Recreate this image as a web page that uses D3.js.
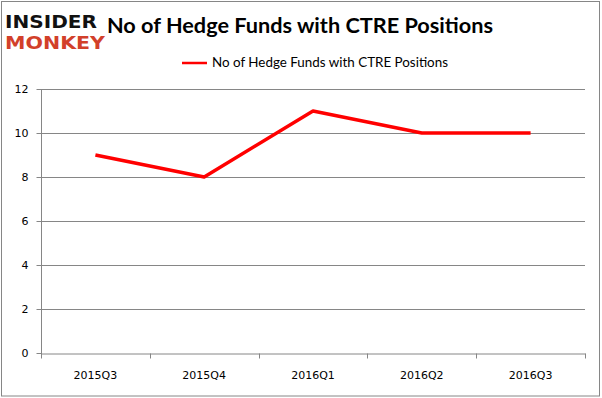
<!DOCTYPE html>
<html>
<head>
<meta charset="utf-8">
<script src="https://cdn.jsdelivr.net/npm/d3@7"></script>
<style>
  body { margin: 0; background: #fff; }
  svg { display: block; }
</style>
</head>
<body>
<div id="chart"></div>
<script>
const quarters = ['2015Q3', '2015Q4', '2016Q1', '2016Q2', '2016Q3'];
const funds = [9, 8, 11, 10, 10];
const yTicks = [0, 2, 4, 6, 8, 10, 12];
const title = 'No of Hedge Funds with CTRE Positions';
const seriesName = 'No of Hedge Funds with CTRE Positions';

const w = 602;
const h = 398;
const margin = {top: 89, right: 17, bottom: 45, left: 41};

const svg = d3.select('#chart')
  .append('svg')
  .attr('width', w)
  .attr('height', h);

// outer frame
svg.append('rect')
  .attr('x', 1.5)
  .attr('y', 1.5)
  .attr('width', w - 4)
  .attr('height', h - 3.5)
  .attr('fill', '#fff')
  .attr('stroke', '#868686');

// logo
svg.append('text')
  .attr('x', 5)
  .attr('y', 28)
  .attr('textLength', 92)
  .attr('lengthAdjust', 'spacingAndGlyphs')
  .style('font-family', 'DejaVu Sans')
  .style('font-weight', 'bold')
  .style('font-size', '18px')
  .attr('fill', '#111')
  .text('INSIDER');
svg.append('text')
  .attr('x', 5)
  .attr('y', 49)
  .attr('textLength', 100)
  .attr('lengthAdjust', 'spacingAndGlyphs')
  .style('font-family', 'DejaVu Sans')
  .style('font-weight', 'bold')
  .style('font-size', '18px')
  .attr('fill', '#d2402a')
  .text('MONKEY');

// title
svg.append('text')
  .attr('x', 300)
  .attr('y', 33)
  .attr('text-anchor', 'middle')
  .style('font-family', 'Lato')
  .style('font-weight', 'bold')
  .style('font-size', '21.7px')
  .attr('fill', '#000')
  .text(title);

const xScale = d3.scaleBand()
  .domain(quarters)
  .range([margin.left, w - margin.right]);
const yScale = d3.scaleLinear()
  .domain([0, 12])
  .range([h - margin.bottom, margin.top]);

// legend
const legend = svg.append('g').attr('transform', 'translate(182, 63)');
legend.append('line')
  .attr('x1', 0).attr('x2', 25)
  .attr('y1', 0).attr('y2', 0)
  .attr('stroke', '#ff0000')
  .attr('stroke-width', 2.5);
legend.append('text')
  .attr('x', 30)
  .attr('y', 4)
  .style('font-family', 'Lato')
  .style('font-size', '13.4px')
  .attr('fill', '#000')
  .text(seriesName);

// gridlines
svg.append('g')
  .selectAll('line')
  .data(yTicks.filter(d => d > 0))
  .enter()
  .append('line')
  .attr('x1', margin.left)
  .attr('x2', w - margin.right)
  .attr('y1', d => Math.round(yScale(d)) + 0.5)
  .attr('y2', d => Math.round(yScale(d)) + 0.5)
  .attr('stroke', '#868686');

const axisFont = g => g.selectAll('text')
  .style('font-family', 'DejaVu Sans')
  .style('font-size', '11px')
  .attr('fill', '#000');

const xAxis = d3.axisBottom(xScale)
  .tickSize(0)
  .tickPadding(18);
const gx = svg.append('g')
  .attr('transform', 'translate(0,' + (Math.round(yScale(0)) + 0.5) + ')')
  .call(xAxis);
gx.select('.domain').attr('stroke', '#868686');
gx.selectAll('.tick').select('line').remove();
gx.call(axisFont);
// category separators
gx.selectAll('.sep')
  .data(quarters.concat(['end']))
  .enter()
  .append('line')
  .attr('class', 'sep')
  .attr('x1', (d, i) => Math.round(margin.left + i * xScale.bandwidth()) + 0.5)
  .attr('x2', (d, i) => Math.round(margin.left + i * xScale.bandwidth()) + 0.5)
  .attr('y1', 0)
  .attr('y2', 5)
  .attr('stroke', '#868686');

const yAxis = d3.axisLeft(yScale)
  .tickValues(yTicks)
  .tickSize(5)
  .tickPadding(8)
  .tickFormat(d3.format('d'));
const gy = svg.append('g')
  .attr('transform', 'translate(' + (margin.left + 0.5) + ',0)')
  .call(yAxis);
gy.select('.domain').attr('stroke', '#868686').attr('d', 'M0,' + margin.top + 'V' + (Math.round(yScale(0)) + 5));
gy.selectAll('.tick line').attr('stroke', '#868686');
gy.call(axisFont);

// series
const line = d3.line()
  .x((d, i) => xScale(quarters[i]) + xScale.bandwidth() / 2)
  .y(d => yScale(d));
svg.append('path')
  .datum(funds)
  .attr('d', line)
  .attr('fill', 'none')
  .attr('stroke', '#ff0000')
  .attr('stroke-width', 3.5)
  .attr('stroke-linejoin', 'round');
</script>
</body>
</html>
